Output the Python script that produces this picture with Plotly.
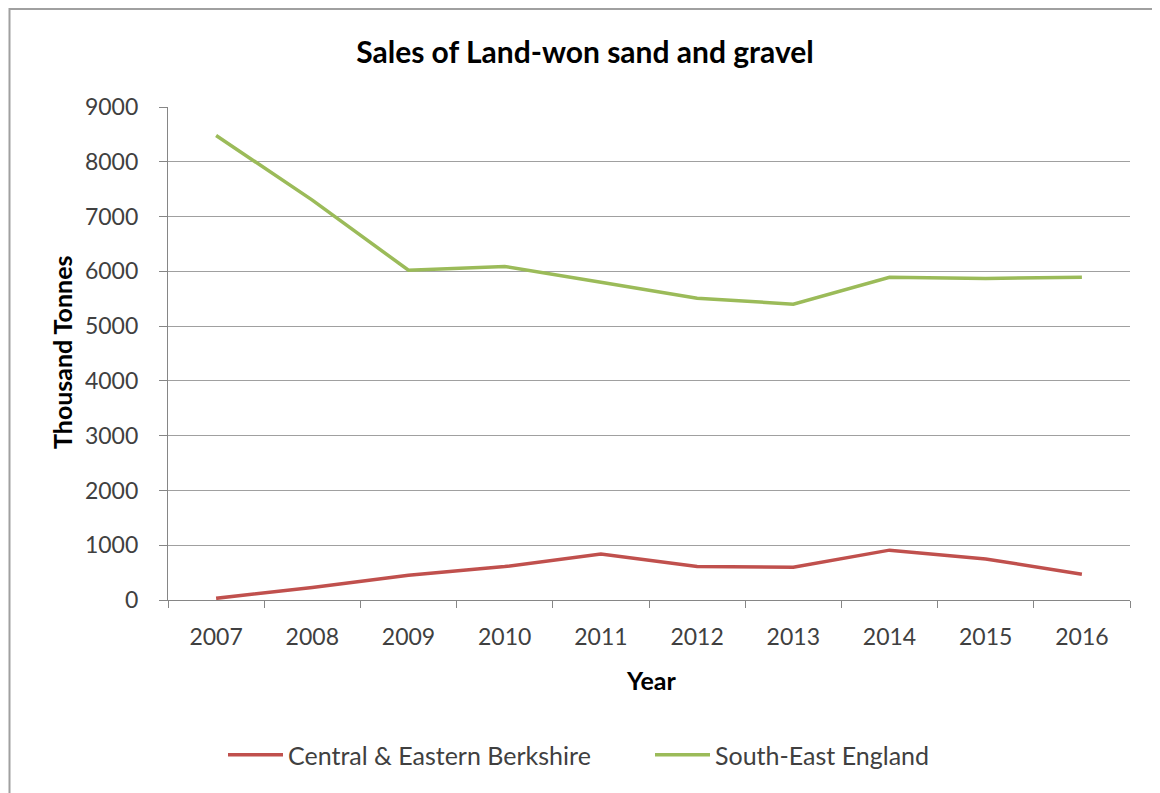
import plotly.graph_objects as go

years = ["2007", "2008", "2009", "2010", "2011", "2012", "2013", "2014", "2015", "2016"]
berkshire = [30, 230, 450, 610, 840, 610, 600, 910, 750, 470]
south_east = [8480, 7300, 6020, 6090, 5800, 5510, 5400, 5890, 5870, 5890]

fig = go.Figure()
fig.add_trace(go.Scatter(x=years, y=berkshire, mode="lines", name="Central & Eastern Berkshire",
                         line=dict(color="#C0504D", width=3.5)))
fig.add_trace(go.Scatter(x=years, y=south_east, mode="lines", name="South-East England",
                         line=dict(color="#9BBB59", width=3.5)))

W, H = 1160, 793
OFF = 8  # page offset of the plot div
L, R, T, B = 160, 38, 99, 201
pw, ph = W - L - R, H - T - B


def px(x):
    return (x - OFF - L) / pw


def py(y):
    return (H - B - (y - OFF)) / ph


fig.add_shape(type="rect", xref="paper", yref="paper",
              x0=px(9.5), x1=px(1175), y0=py(810), y1=py(9),
              line=dict(color="#A0A0A0", width=2), fillcolor="rgba(0,0,0,0)", layer="below")

fig.add_annotation(text="<b>Year</b>", xref="paper", yref="paper", x=px(651), y=py(680),
                   xanchor="center", yanchor="middle", showarrow=False,
                   font=dict(size=25, color="#000000"))
fig.add_annotation(text="<b>Thousand Tonnes</b>", xref="paper", yref="paper", x=px(62), y=py(352),
                   xanchor="center", yanchor="middle", showarrow=False, textangle=-90,
                   font=dict(size=25, color="#000000"))

fig.update_layout(
    width=W, height=H,
    margin=dict(l=L, r=R, t=T, b=B),
    paper_bgcolor="white", plot_bgcolor="white",
    font=dict(family="Lato, Open Sans, sans-serif", color="#404040"),
    title=dict(text="<b>Sales of Land-won sand and gravel</b>", xref="container",
               x=(585 - OFF) / W, xanchor="center",
               y=1 - (52 - OFF) / H, yanchor="middle", font=dict(size=30, color="#000000")),
    xaxis=dict(type="category", range=[-0.5, 9.5], tickson="boundaries",
               ticks="outside", ticklen=7, tickcolor="#868686",
               showline=True, linecolor="#868686", linewidth=1.2,
               showgrid=False, tickfont=dict(size=23, color="#404040"),
               ticklabelstandoff=16),
    yaxis=dict(range=[0, 9000], dtick=1000, ticks="outside", ticklen=8, tickcolor="#868686",
               showline=True, linecolor="#868686", linewidth=1.2,
               showgrid=True, gridcolor="#A0A0A0", gridwidth=1.2, zeroline=False,
               tickfont=dict(size=23, color="#404040"), ticklabelstandoff=16),
    legend=dict(orientation="h", x=px(650), xanchor="center", y=py(755), yanchor="middle",
                font=dict(size=25, color="#404040"), itemwidth=55, traceorder="normal",
                entrywidth=357),
    showlegend=True,
)

fig.write_html("out.html")
